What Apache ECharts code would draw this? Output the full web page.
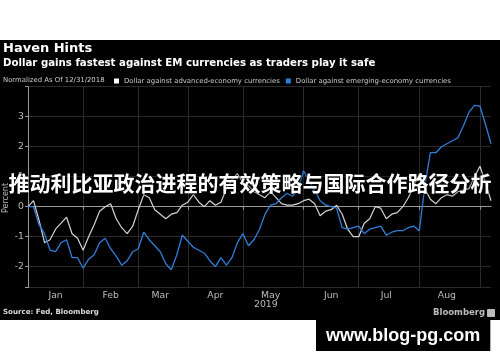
<!DOCTYPE html>
<html>
<head>
<meta charset="utf-8">
<script src="https://cdn.jsdelivr.net/npm/echarts/dist/echarts.min.js"></script>
<style>
html,body{margin:0;padding:0;background:#fff;}
#c{width:500px;height:362px;background:linear-gradient(to bottom,#fff 0,#fff 40px,#000 40px,#000 320px,#fff 320px,#fff 362px);}
</style>
</head>
<body>
<div id="c"></div>
<script>
// ---- data ----
const monthNames = ['Jan','Feb','Mar','Apr','May','Jun','Jul','Aug','Sep'];
const monthCounts = [10,10,9,10,11,10,11,11,3];
const monthLabels = ['Jan','Feb','Mar','Apr','May','Jun','Jul','Aug',''];
const yearLabel = '2019';
const yAxisName = 'Percent';
const seriesNames = ['Dollar against advanced-economy currencies','Dollar against emerging-economy currencies'];
const advanced = [
  0, 0.2, -0.45, -1.2, -1.1, -0.75, -0.55, -0.35, -0.9, -1.05,
  -1.45, -1.0, -0.6, -0.15, 0.0, 0.1, -0.4, -0.7, -0.9, -0.65,
  -0.1, 0.4, 0.3, -0.1, -0.25, -0.4, -0.25, -0.2, 0.05, 0.15,
  0.4, 0.15, 0.0, 0.2, 0.05, 0.15, 0.6, 0.9, 1.1, 0.8,
  0.7, 0.5, 0.4, 0.3, 0.5, 0.3, 0.1, 0.05, 0.05, 0.1,
  0.2, 0.25, 0.1, -0.3, -0.15, -0.1, 0.05, -0.25, -0.75, -1.0,
  -1.0, -0.55, -0.4, 0.0, -0.05, -0.4, -0.25, -0.2, 0.0, 0.3,
  0.7, 1.1, 0.6, 0.25, 0.1, 0.3, 0.4, 0.35, 0.5, 0.55,
  0.6, 1.0, 1.35, 0.8, 0.2
];
const emerging = [
  0, 0, -0.6, -0.9, -1.45, -1.5, -1.2, -1.1, -1.7, -1.7,
  -2.05, -1.75, -1.6, -1.2, -1.05, -1.4, -1.65, -1.95, -1.8, -1.5,
  -1.4, -0.85, -1.1, -1.3, -1.5, -1.9, -2.1, -1.6, -0.95, -1.15,
  -1.35, -1.45, -1.55, -1.8, -2.0, -1.7, -1.95, -1.7, -1.2, -0.9,
  -1.3, -1.1, -0.75, -0.25, 0.05, 0.1, 0.3, 0.45, 0.35, 0.55,
  1.2, 0.85, 0.55, 0.2, 0.05, 0.0, -0.05, -0.7, -0.75, -0.7,
  -0.65, -0.9, -0.75, -0.7, -0.65, -0.95, -0.85, -0.8, -0.8, -0.7,
  -0.65, -0.8, 0.7, 1.8, 1.8, 2.0, 2.1, 2.2, 2.3, 2.7,
  3.15, 3.38, 3.35, 2.75, 2.1
];
const yTickLabels = [-2,-1,0,1,2,3];

// ---- build categories ----
const categories = [];
const starts = new Set();
const labelAt = {};
let idx = 0;
monthNames.forEach((m, i) => {
  starts.add(idx);
  if (monthLabels[i]) labelAt[idx + Math.floor(monthCounts[i] / 2)] = monthLabels[i];
  for (let k = 0; k < monthCounts[i]; k++) { categories.push(m + ' ' + (k + 1)); idx++; }
});

const chart = echarts.init(document.getElementById('c'), null, {renderer: 'canvas'});
const FONT = 'DejaVu Sans';
chart.setOption({
  backgroundColor: 'transparent',
  animation: false,
  title: [
    {text: 'Haven Hints', left: 3, top: 42, padding: 0,
     textStyle: {color: '#fff', fontSize: 13, fontWeight: 'bold', fontFamily: FONT}},
    {text: 'Dollar gains fastest against EM currencies as traders play it safe', left: 3, top: 58.5, padding: 0,
     textStyle: {color: '#fff', fontSize: 10.2, fontWeight: 'bold', fontFamily: FONT}},
    {text: 'Normalized As Of 12/31/2018', left: 3, top: 77, padding: 0,
     textStyle: {color: '#ccc', fontSize: 6.9, fontWeight: 'normal', fontFamily: FONT}},
    {text: yearLabel, left: 254, top: 300, padding: 0,
     textStyle: {color: '#bbb', fontSize: 9.3, fontWeight: 'normal', fontFamily: FONT}},
    {text: 'Source: Fed, Bloomberg', left: 3, top: 309, padding: 0,
     textStyle: {color: '#ddd', fontSize: 7.1, fontWeight: 'bold', fontFamily: FONT}},
    {text: 'Bloomberg', left: 433, top: 308, padding: 0,
     textStyle: {color: '#bbb', fontSize: 8.5, fontWeight: 'bold', fontFamily: FONT}},
    {text: '推动利比亚政治进程的有效策略与国际合作路径分析', left: 'center', top: 173, padding: 0,
     textStyle: {color: '#fff', fontSize: 21, fontWeight: 'bold', fontFamily: 'Noto Sans CJK SC',
       textShadowColor: 'rgba(0,0,0,0.9)', textShadowBlur: 4}},
    {text: 'www.blog-pg.com', left: 316, top: 320, padding: [7, 10, 6, 10], backgroundColor: '#000',
     textStyle: {color: '#fff', fontSize: 18, fontWeight: 'bold', fontFamily: 'Liberation Sans'}}
  ],
  graphic: [
    {type: 'rect', shape: {x: 487, y: 309, width: 8, height: 8, r: 1}, style: {fill: '#bbb'}},
    {type: 'text', x: 6, y: 198, rotation: Math.PI / 2, z: 0,
     style: {text: yAxisName, fill: '#bbb', fontSize: 8, fontFamily: FONT, align: 'center', verticalAlign: 'middle'}}
  ],
  legend: {
    left: 114, top: 77.5, padding: 0, itemWidth: 5, itemHeight: 5, itemGap: 6, icon: 'rect',
    textStyle: {color: '#ccc', fontSize: 6.9, fontFamily: FONT},
    data: seriesNames
  },
  grid: {left: 28, right: 9, top: 86.7, bottom: 74.3, containLabel: false, outerBoundsMode: 'none'},
  xAxis: {
    type: 'category', data: categories, boundaryGap: false,
    axisLine: {lineStyle: {color: '#999', width: 1}},
    axisTick: {interval: (i) => starts.has(i), length: 3, lineStyle: {color: '#999'}},
    axisLabel: {interval: (i) => (i in labelAt), formatter: (v, i) => labelAt[i] || '',
      color: '#bbb', fontSize: 9.3, margin: 3, fontFamily: FONT},
    splitLine: {show: true, interval: (i) => starts.has(i) && i > 0, lineStyle: {color: '#2a2a2a', width: 1}}
  },
  yAxis: {
    type: 'value', min: -2.7, max: 4,
    axisLine: {show: true, lineStyle: {color: '#999', width: 1}},
    axisTick: {show: true, length: 3, lineStyle: {color: '#999'}},
    axisLabel: {color: '#bbb', fontSize: 9.3, margin: 4, fontFamily: FONT,
      formatter: (v) => {
        const r = Math.round(v);
        return (Math.abs(v - r) < 1e-6 && yTickLabels.indexOf(r) >= 0) ? String(r) : '';
      }},
    splitLine: {show: true, lineStyle: {color: '#2a2a2a', width: 1}}
  },
  series: [
    {name: seriesNames[0], type: 'line', data: advanced, showSymbol: false, symbol: 'none',
     lineStyle: {color: '#d4d4d4', width: 1.2}, itemStyle: {color: '#ffffff'}},
    {name: seriesNames[1], type: 'line', data: emerging, showSymbol: false, symbol: 'none',
     lineStyle: {color: '#2f7ed8', width: 1.3}, itemStyle: {color: '#2f7ed8'}}
  ]
});
</script>
</body>
</html>
